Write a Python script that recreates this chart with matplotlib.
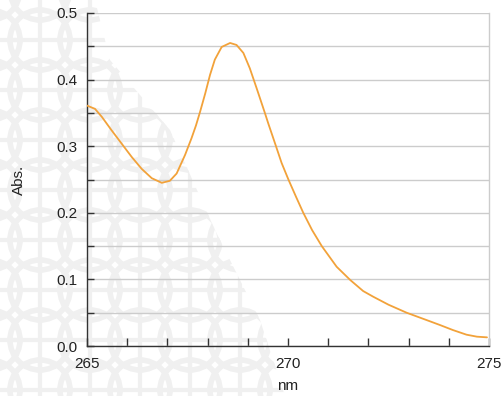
import numpy as np
import matplotlib
matplotlib.use("Agg")
import matplotlib.pyplot as plt
from matplotlib.patches import Circle, Polygon

plt.rcParams['font.family'] = ['Liberation Sans', 'DejaVu Sans']

# Data
wavelength = [265.0, 265.2, 265.37, 265.61, 265.86, 266.11, 266.36, 266.61, 266.86, 267.06,
              267.23, 267.44, 267.6, 267.71, 267.81, 267.94, 268.06, 268.18, 268.35, 268.56,
              268.72, 268.89, 269.05, 269.22, 269.43, 269.51, 269.69, 269.84, 270.01, 270.2,
              270.38, 270.6, 270.84, 271.21, 271.55, 271.87, 272.12, 272.5, 272.95, 273.4,
              273.78, 274.1, 274.44, 274.7, 274.95]
absorbance = [0.361, 0.356, 0.344, 0.324, 0.304, 0.284, 0.266, 0.252, 0.245, 0.248,
              0.259, 0.287, 0.312, 0.331, 0.351, 0.379, 0.407, 0.430, 0.449, 0.455,
              0.452, 0.440, 0.417, 0.387, 0.349, 0.334, 0.302, 0.275, 0.250, 0.224,
              0.200, 0.174, 0.150, 0.119, 0.099, 0.0825, 0.074, 0.062, 0.050, 0.040,
              0.0315, 0.024, 0.0170, 0.014, 0.013]
xticks_major = [265, 270, 275]
yticks_major = [0.0, 0.1, 0.2, 0.3, 0.4, 0.5]

fig = plt.figure(figsize=(5.02, 3.96), dpi=100)
fig.patch.set_facecolor('white')

# faint watermark pattern in the background (decorative)
bg = fig.add_axes([0, 0, 1, 1], zorder=0)
bg.set_xlim(0, 502)
bg.set_ylim(396, 0)
bg.axis('off')
clip = Polygon([(0, 0), (95, 0), (110, 60), (170, 130), (215, 230), (260, 320), (285, 396), (0, 396)],
               closed=True, transform=bg.transData, facecolor='none', edgecolor='none')
bg.add_patch(clip)
step = 50
for cx in np.arange(-10, 330, step):
    for cy in np.arange(-10, 430, step):
        c = Circle((cx, cy), 30, fill=False, lw=4.0, ec='#f0f0f0')
        bg.add_patch(c)
        c.set_clip_path(clip)
        for (x0, y0, x1, y1) in [(cx, cy - 30, cx, cy + 30), (cx - 30, cy, cx + 30, cy)]:
            ln, = bg.plot([x0, x1], [y0, y1], color='#f0f0f0', lw=3.0)
            ln.set_clip_path(clip)

ax = fig.add_axes([87 / 502, 1 - 346 / 396, (489 - 87) / 502, (346 - 13) / 396], zorder=1)
ax.patch.set_alpha(0)

ax.plot(wavelength, absorbance, color='#F2A23A', lw=1.3, zorder=3,
        solid_joinstyle='round', solid_capstyle='round')

ax.set_xlim(265, 275)
ax.set_ylim(0, 0.5)
ax.set_xticks(xticks_major)
ax.set_xticks(np.arange(265, 276, 1), minor=True)
ax.set_yticks(yticks_major)
ax.set_yticks(np.arange(0, 0.51, 0.05), minor=True)
ax.set_xticklabels([str(v) for v in xticks_major])
ax.set_yticklabels([f'{v:.1f}' for v in yticks_major])

ax.grid(True, axis='y', which='both', color='#cccccc', lw=1.0, zorder=0)
ax.tick_params(axis='both', which='both', direction='in', length=6, width=1.0, color='#333333',
               labelsize=11, labelcolor='#222222')
ax.tick_params(axis='x', which='both', pad=8)
ax.tick_params(axis='y', which='both', pad=7, length=5)

for s in ['left', 'bottom']:
    ax.spines[s].set_color('#333333')
    ax.spines[s].set_linewidth(1.0)
ax.spines['top'].set_visible(False)
ax.spines['right'].set_color('#cccccc')
ax.spines['right'].set_linewidth(1.0)

ax.set_xlabel('nm', fontsize=11, color='#222222', labelpad=6)
ax.set_ylabel('Abs.', fontsize=11, color='#222222', labelpad=22)

fig.savefig('out.png', dpi=100)
